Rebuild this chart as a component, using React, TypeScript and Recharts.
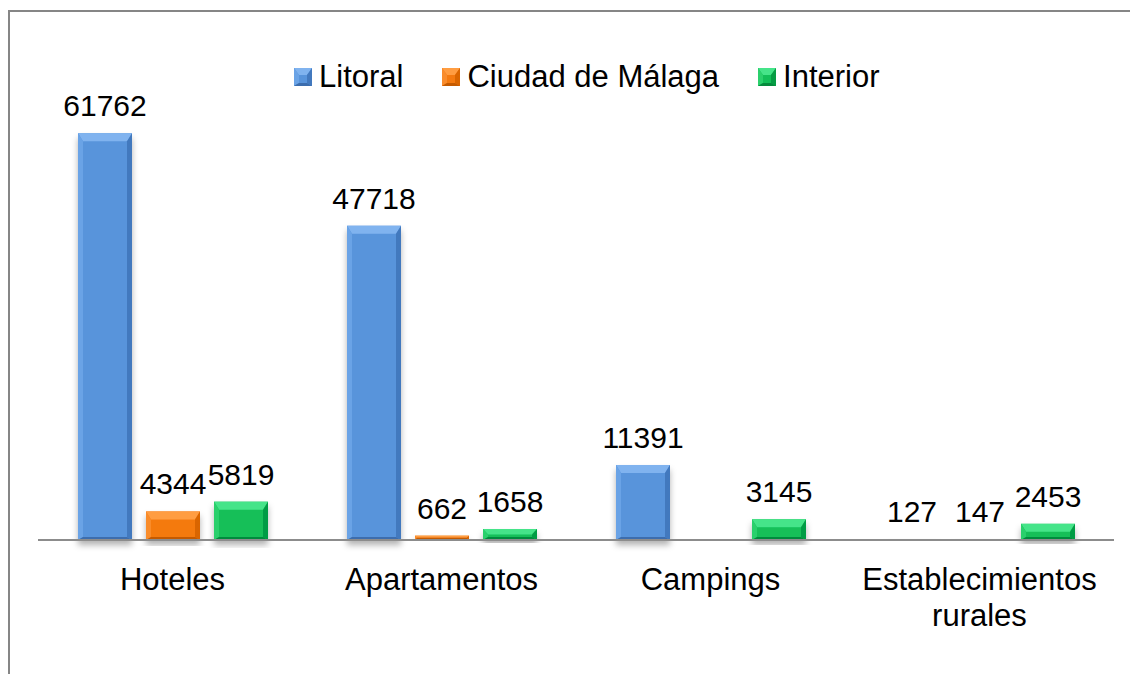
import { BarChart, Bar, XAxis, YAxis, Legend, LabelList } from "recharts";

const categories = ["Hoteles", "Apartamentos", "Campings", "Establecimientos rurales"];
const litoral = [61762, 47718, 11391, 127];
const ciudadMalaga = [4344, 662, null, 147];
const interior = [5819, 1658, 3145, 2453];

const seriesNames = ["Litoral", "Ciudad de Málaga", "Interior"];

const data = categories.map((name, i) => ({
  name,
  litoral: litoral[i],
  ciudad: ciudadMalaga[i],
  interior: interior[i],
}));

type Palette = { main: string; top: string; left: string; right: string; bottom: string };

const palettes: Record<string, Palette> = {
  litoral: { main: "#5894DB", top: "#80B3EF", left: "#6AA3E6", right: "#4379BE", bottom: "#3C6DAD" },
  ciudad: { main: "#F47A10", top: "#FF9D42", left: "#F98C2C", right: "#D96500", bottom: "#C45A00" },
  interior: { main: "#12BF58", top: "#45E489", left: "#2BD06C", right: "#069C44", bottom: "#058A3C" },
};

const keys = ["litoral", "ciudad", "interior"];

const FONT = "'Liberation Sans', Arial, sans-serif";
const TICK_SIZE = 31;

// word wrap measured with a canvas, so long category names break like in the original
let ctx: CanvasRenderingContext2D | null = null;
function wrapWords(label: string, maxWidth: number): string[] {
  if (!ctx) {
    ctx = document.createElement("canvas").getContext("2d");
  }
  if (!ctx) return [label];
  ctx.font = `${TICK_SIZE}px ${FONT}`;
  const lines: string[] = [];
  let line = "";
  for (const word of label.split(" ")) {
    const next = line ? line + " " + word : word;
    if (line && ctx.measureText(next).width > maxWidth) {
      lines.push(line);
      line = word;
    } else {
      line = next;
    }
  }
  if (line) lines.push(line);
  return lines;
}

function BevelBar(props: any) {
  const { x, y, width: w, height: h, pal } = props;
  if (h == null || h <= 0 || w <= 0) return null;
  const t = Math.min(8, h / 2, w / 2); // top bevel
  const s = Math.min(5, h / 2, w / 2); // side bevel
  const b = Math.min(3, h / 2); // bottom bevel
  return (
    <g filter="url(#barShadow)">
      <rect x={x} y={y} width={w} height={h} fill={pal.main} />
      <polygon points={`${x},${y} ${x + w},${y} ${x + w - s},${y + t} ${x + s},${y + t}`} fill={pal.top} />
      <polygon points={`${x},${y} ${x + s},${y + t} ${x + s},${y + h - b} ${x},${y + h}`} fill={pal.left} />
      <polygon points={`${x + w},${y} ${x + w},${y + h} ${x + w - s},${y + h - b} ${x + w - s},${y + t}`} fill={pal.right} />
      <polygon points={`${x},${y + h} ${x + s},${y + h - b} ${x + w - s},${y + h - b} ${x + w},${y + h}`} fill={pal.bottom} />
    </g>
  );
}

const renderLabel = (props: any) => {
  const { x, y, width, value } = props;
  if (value == null) return null;
  return (
    <text x={x + width / 2} y={y - 17} textAnchor="middle" fontSize={30} fontFamily={FONT} fill="#000">
      {value}
    </text>
  );
};

function CategoryTick(props: any) {
  const { x, y, payload } = props;
  const lines = wrapWords(String(payload.value), 260);
  return (
    <text x={x} y={y + 42} textAnchor="middle" fontSize={TICK_SIZE} fontFamily={FONT} fill="#000">
      {lines.map((l, i) => (
        <tspan key={i} x={x} dy={i === 0 ? 0 : 36}>
          {l}
        </tspan>
      ))}
    </text>
  );
}

function LegendMarker({ pal }: { pal: Palette }) {
  return (
    <svg width={18} height={18} style={{ display: "block" }}>
      <rect x={0} y={0} width={18} height={18} fill={pal.main} />
      <polygon points="0,0 18,0 13,7 5,7" fill={pal.top} />
      <polygon points="0,0 5,7 5,15 0,18" fill={pal.left} />
      <polygon points="18,0 18,18 13,15 13,7" fill={pal.right} />
      <polygon points="0,18 5,15 13,15 18,18" fill={pal.bottom} />
    </svg>
  );
}

function LegendContent() {
  return (
    <div style={{ display: "flex", alignItems: "center", paddingLeft: 294, fontFamily: FONT, fontSize: 31, color: "#000" }}>
      {keys.map((k, i) => (
        <div key={k} style={{ display: "flex", alignItems: "center", marginRight: 39 }}>
          <LegendMarker pal={palettes[k]} />
          <span style={{ marginLeft: 7, lineHeight: "34px" }}>{seriesNames[i]}</span>
        </div>
      ))}
    </div>
  );
}

export default function App() {
  return (
    <div style={{ position: "relative", width: 1130, height: 674, overflow: "hidden", background: "#fff", fontFamily: FONT }}>
      <style>{"body{margin:0}"}</style>
      <div
        style={{
          position: "absolute",
          left: 8,
          top: 10,
          width: 1300,
          height: 800,
          borderTop: "2px solid #868686",
          borderLeft: "2px solid #868686",
        }}
      />
      <div style={{ position: "absolute", left: 0, top: 0 }}>
        <BarChart
          width={1130}
          height={674}
          data={data}
          margin={{ top: 79, right: 16, bottom: 54, left: 38 }}
          barCategoryGap={40}
          barGap={14}
        >
          <defs>
            <filter id="barShadow" x="-20%" y="-20%" width="140%" height="140%">
              <feDropShadow dx={0} dy={5} stdDeviation={3} floodColor="#000" floodOpacity={0.3} />
            </filter>
          </defs>
          <XAxis
            dataKey="name"
            height={80}
            tickLine={false}
            axisLine={{ stroke: "#8c8c8c", strokeWidth: 2 }}
            tick={<CategoryTick />}
            interval={0}
          />
          <YAxis hide domain={[0, 70000]} />
          <Legend
            verticalAlign="middle"
            layout="horizontal"
            content={<LegendContent />}
            wrapperStyle={{ top: 60, left: 0, width: 1130 }}
          />
          {keys.map((k, i) => (
            <Bar
              key={k}
              dataKey={k}
              name={seriesNames[i]}
              fill={palettes[k].main}
              isAnimationActive={false}
              shape={(p: any) => <BevelBar {...p} pal={palettes[k]} />}
            >
              <LabelList dataKey={k} content={renderLabel} />
            </Bar>
          ))}
        </BarChart>
      </div>
    </div>
  );
}
